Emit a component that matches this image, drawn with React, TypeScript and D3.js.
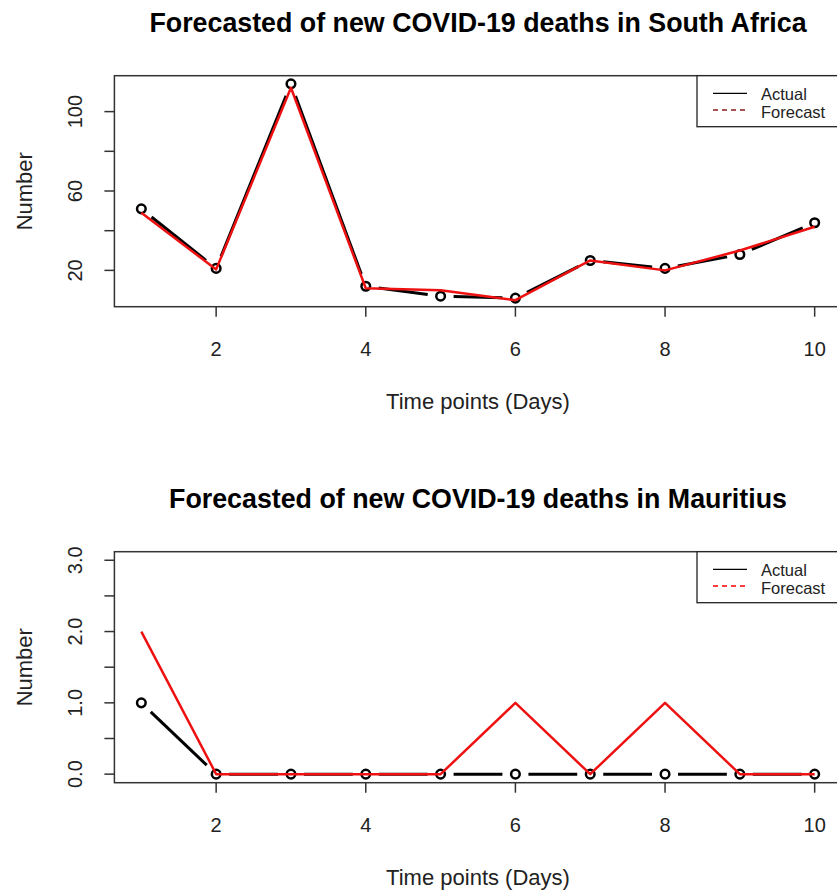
import React from "react";
import * as d3 from "d3";

const days = [1, 2, 3, 4, 5, 6, 7, 8, 9, 10];
const saActual = [51, 21, 114, 12, 7, 6, 25, 21, 28, 44];
const saForecast = [49, 20.5, 112, 11, 10, 5, 25, 20, 30, 42];
const muActual = [1, 0, 0, 0, 0, 0, 0, 0, 0, 0];
const muForecast = [2, 0, 0, 0, 0, 1, 0, 1, 0, 0];
const saYTicks = [20, 40, 60, 80, 100];
const saYLabels = ["20", "", "60", "", "100"];
const muYTicks = [0, 0.5, 1, 1.5, 2, 2.5, 3];
const muYLabels = ["0.0", "", "1.0", "", "2.0", "", "3.0"];
const xTicks = [2, 4, 6, 8, 10];

const FONT = "'Liberation Sans', Arial, sans-serif";

type PanelProps = {
  top: number;
  title: string;
  actual: number[];
  forecast: number[];
  yDomain: [number, number];
  yTicks: number[];
  yLabels: string[];
  legendForecastColor: string;
};

function Panel({ top, title, actual, forecast, yDomain, yTicks, yLabels, legendForecastColor }: PanelProps) {
  const left = 114.4;
  const right = 841.6;
  const boxTop = top + 75.7;
  const boxBottom = top + 306.7;
  const x = d3.scaleLinear().domain([0.64, 10.36]).range([left, right]);
  const y = d3.scaleLinear().domain(yDomain).range([boxBottom, boxTop]);
  const pts = days.map((d, i) => [x(d), y(actual[i])] as [number, number]);
  const gap = 13;
  const segs: string[] = [];
  for (let i = 0; i < pts.length - 1; i++) {
    const [x0, y0] = pts[i];
    const [x1, y1] = pts[i + 1];
    const len = Math.hypot(x1 - x0, y1 - y0);
    if (len <= 2 * gap) continue;
    const ux = (x1 - x0) / len;
    const uy = (y1 - y0) / len;
    segs.push(
      d3.line()([
        [x0 + ux * gap, y0 + uy * gap],
        [x1 - ux * gap, y1 - uy * gap],
      ]) as string
    );
  }
  const fLine = d3
    .line<number>()
    .x((_, i) => x(days[i]))
    .y((v) => y(v))(forecast) as string;
  const cx = (left + right) / 2;
  const cy = (boxTop + boxBottom) / 2;
  const legX = 697;
  const legBottom = top + 126.7;
  return (
    <g>
      <text x={cx} y={top + 32} textAnchor="middle" fontFamily={FONT} fontWeight="bold" fontSize={26.8} fill="#000">
        {title}
      </text>
      <rect x={left} y={boxTop} width={right - left} height={boxBottom - boxTop} fill="none" stroke="#333" strokeWidth={1.5} />
      {xTicks.map((t) => (
        <g key={"x" + t}>
          <line x1={x(t)} x2={x(t)} y1={boxBottom} y2={boxBottom + 10} stroke="#333" strokeWidth={1.5} />
          <text x={x(t)} y={boxBottom + 49} textAnchor="middle" fontFamily={FONT} fontSize={20} fill="#222">
            {t}
          </text>
        </g>
      ))}
      {yTicks.map((t, i) => (
        <g key={"y" + t}>
          <line x1={left} x2={left - 10} y1={y(t)} y2={y(t)} stroke="#333" strokeWidth={1.5} />
          {yLabels[i] && (
            <text
              transform={`translate(${left - 32},${y(t)}) rotate(-90)`}
              textAnchor="middle"
              fontFamily={FONT}
              fontSize={20}
              fill="#222"
            >
              {yLabels[i]}
            </text>
          )}
        </g>
      ))}
      <text x={cx} y={boxBottom + 102} textAnchor="middle" fontFamily={FONT} fontSize={22} fill="#222">
        Time points (Days)
      </text>
      <text
        transform={`translate(32,${cy}) rotate(-90)`}
        textAnchor="middle"
        fontFamily={FONT}
        fontSize={22}
        fill="#222"
      >
        Number
      </text>
      {segs.map((s, i) => (
        <path key={"s" + i} d={s} stroke="#000" strokeWidth={3} fill="none" />
      ))}
      {pts.map(([px, py], i) => (
        <circle key={"p" + i} cx={px} cy={py} r={4.3} fill="none" stroke="#000" strokeWidth={2.5} />
      ))}
      <path d={fLine} stroke="#ee1111" strokeWidth={2.5} fill="none" strokeLinejoin="round" />
      <rect x={legX} y={boxTop} width={right - legX} height={legBottom - boxTop} fill="#fff" stroke="#222" strokeWidth={1.3} />
      <line x1={713} x2={747} y1={top + 93.3} y2={top + 93.3} stroke="#000" strokeWidth={1.3} />
      <line x1={713} x2={747} y1={top + 110} y2={top + 110} stroke={legendForecastColor} strokeWidth={1.3} strokeDasharray="5,4" />
      <text x={761} y={top + 99.5} fontFamily={FONT} fontSize={16.5} fill="#222">
        Actual
      </text>
      <text x={761} y={top + 118} fontFamily={FONT} fontSize={16.5} fill="#222">
        Forecast
      </text>
    </g>
  );
}

export default function App() {
  return (
    <svg width={837} height={893} style={{ position: "absolute", left: 0, top: 0, background: "#fff" }}>
      <rect width={837} height={893} fill="#fff" />
      <Panel
        top={0}
        title="Forecasted of new COVID-19 deaths in South Africa"
        actual={saActual}
        forecast={saForecast}
        yDomain={[1.7, 118.1]}
        yTicks={saYTicks}
        yLabels={saYLabels}
        legendForecastColor="#8b1a1a"
      />
      <Panel
        top={476}
        title="Forecasted of new COVID-19 deaths in Mauritius"
        actual={muActual}
        forecast={muForecast}
        yDomain={[-0.12, 3.12]}
        yTicks={muYTicks}
        yLabels={muYLabels}
        legendForecastColor="#ff0000"
      />
    </svg>
  );
}
